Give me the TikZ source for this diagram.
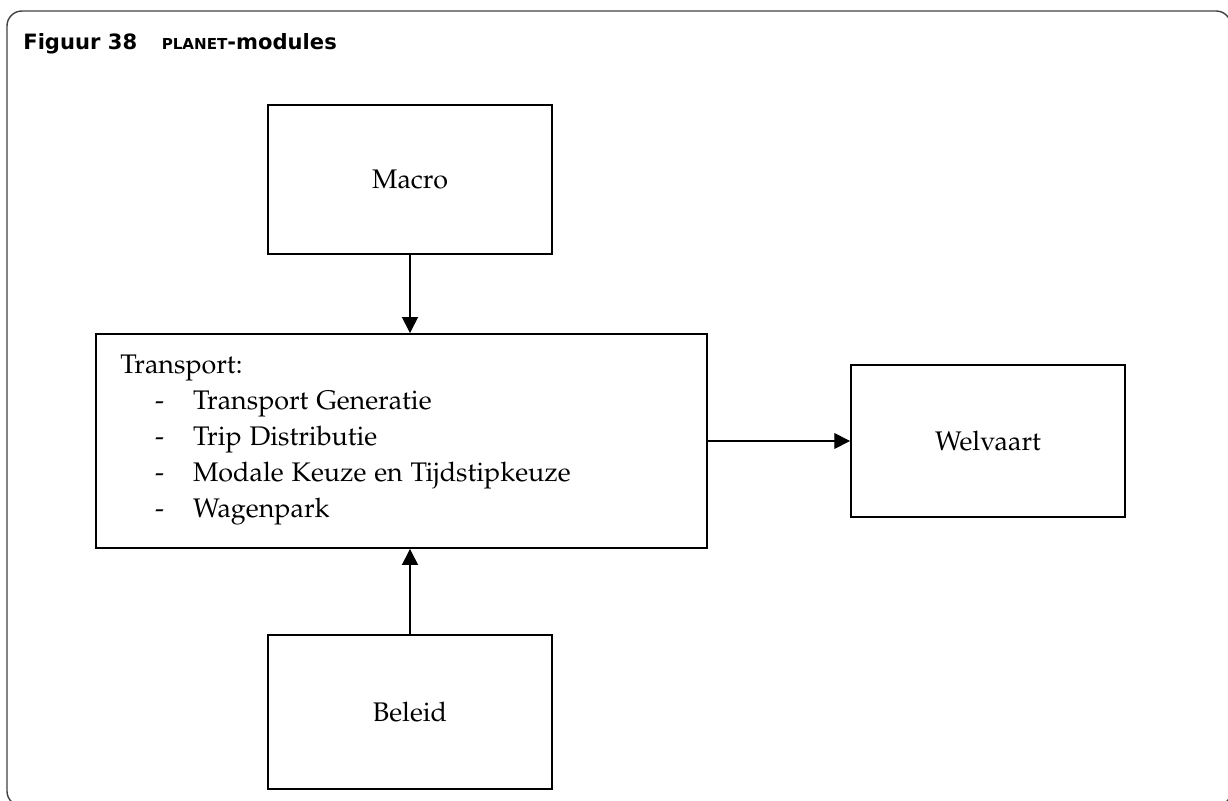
\documentclass[tikz,border=0pt]{standalone}
\usepackage[T1]{fontenc}
\usepackage{fontspec}
\usepackage{tikz}
\usetikzlibrary{arrows.meta}
\newfontfamily\kopfont{DejaVu Sans}
\newcommand\palfont{\fontencoding{T1}\fontfamily{pplx}\selectfont\fontsize{15.3}{20.4}\selectfont}
\newcommand\streep{\hspace*{19.8pt}\makebox[21.6pt][l]{-}}

\begin{document}
\begin{tikzpicture}[x=0.02cm,y=-0.02cm,
  blok/.style={draw,line width=1.1pt,inner sep=0pt,font=\palfont},
  pijl/.style={-{Triangle[length=9pt,width=9pt]},line width=0.8pt}]
  \useasboundingbox (0,0) rectangle (1228,801);
  \draw[black!75,line width=0.8pt,rounded corners=8.5pt] (7,806) rectangle (1231,11);
  \node[anchor=base west,inner sep=0pt,font=\kopfont\bfseries\fontsize{12}{14}\selectfont] (kop) at (23,50) {Figuur 38\hspace{14pt}{\fontsize{8.6}{10}\selectfont PLANET}-modules};
  \node[blok,minimum width=5.68cm,minimum height=2.98cm] (macro) at (410,179.5) {Macro};
  \node[blok,minimum width=12.22cm,minimum height=4.28cm] (transport) at (401.5,441) {};
  \node[blok,minimum width=5.48cm,minimum height=3.04cm] (welvaart) at (988,441) {Welvaart};
  \node[blok,minimum width=5.68cm,minimum height=3.08cm] (beleid) at (410,712) {Beleid};
  \node[anchor=north west,inner sep=0pt,align=left,font=\palfont] (lijst) at (120,355) {Transport:\\ \streep Transport Generatie\\ \streep Trip Distributie\\ \streep Modale Keuze en Tijdstipkeuze\\ \streep Wagenpark};
  \draw[pijl] (macro.south) -- (macro.south |- transport.north);
  \draw[pijl] (beleid.north) -- (beleid.north |- transport.south);
  \draw[pijl] (transport.east |- welvaart.west) -- (welvaart.west);
\end{tikzpicture}
\end{document}
